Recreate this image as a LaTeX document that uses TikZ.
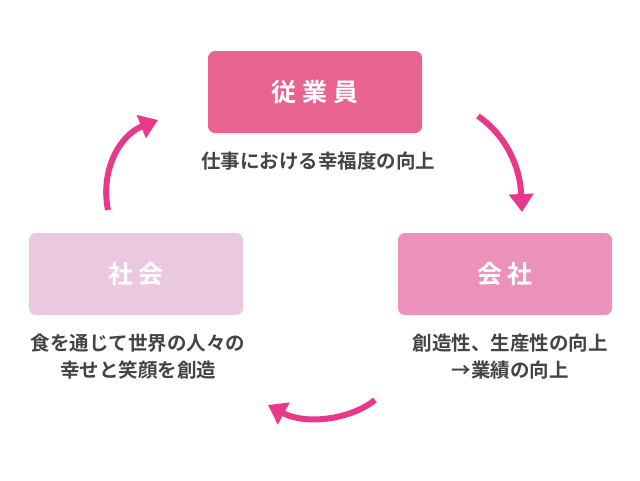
\documentclass[tikz,border=0pt]{standalone}
\usepackage{fontspec}
\newfontfamily\cjk{Noto Sans CJK JP}[BoldFont={Noto Sans CJK JP Bold}]
\usetikzlibrary{arrows.meta}
\definecolor{bA}{HTML}{E8638F}
\definecolor{bB}{HTML}{EC92BA}
\definecolor{bC}{HTML}{EAC8E0}
\definecolor{arr}{HTML}{E8388A}
\definecolor{txt}{HTML}{444444}
\begin{document}
\begin{tikzpicture}[x=1pt,y=-1pt,
 box/.style={rounded corners=7pt,minimum width=214pt,minimum height=82pt,inner sep=0pt,
   font=\cjk\bfseries\fontsize{25}{28}\selectfont,text=white},
 lab/.style={text=txt,font=\cjk\bfseries\fontsize{19.5}{27}\selectfont,align=center},
 cyc/.style={arr,line width=6pt,-{Triangle[length=18pt,width=24pt]}}]
\useasboundingbox (0,0) rectangle (640,480);
\node[box,fill=bA] (emp) at (315,92) {従 業 員};
\node[box,fill=bB] (co) at (505,274) {会 社};
\node[box,fill=bC] (soc) at (136,274) {社 会};
\node[lab] (l1) at (318,161) {仕事における幸福度の向上};
\node[lab] (l2) at (510,357) {創造性、生産性の向上\\→業績の向上};
\node[lab] (l3) at (138,357) {食を通じて世界の人々の\\幸せと笑顔を創造};
\coordinate (a1s) at (478,116); \coordinate (a1e) at (522,212);
\coordinate (a2s) at (375,400); \coordinate (a2e) at (268,405);
\coordinate (a3s) at (108,210); \coordinate (a3e) at (158,120);
\draw[cyc] (a1s) .. controls (505,135) and (520,165) .. (a1e);
\draw[cyc] (a2s) .. controls (350,420) and (305,425) .. (a2e);
\draw[cyc] (a3s) .. controls (100,170) and (120,135) .. (a3e);
\end{tikzpicture}
\end{document}
